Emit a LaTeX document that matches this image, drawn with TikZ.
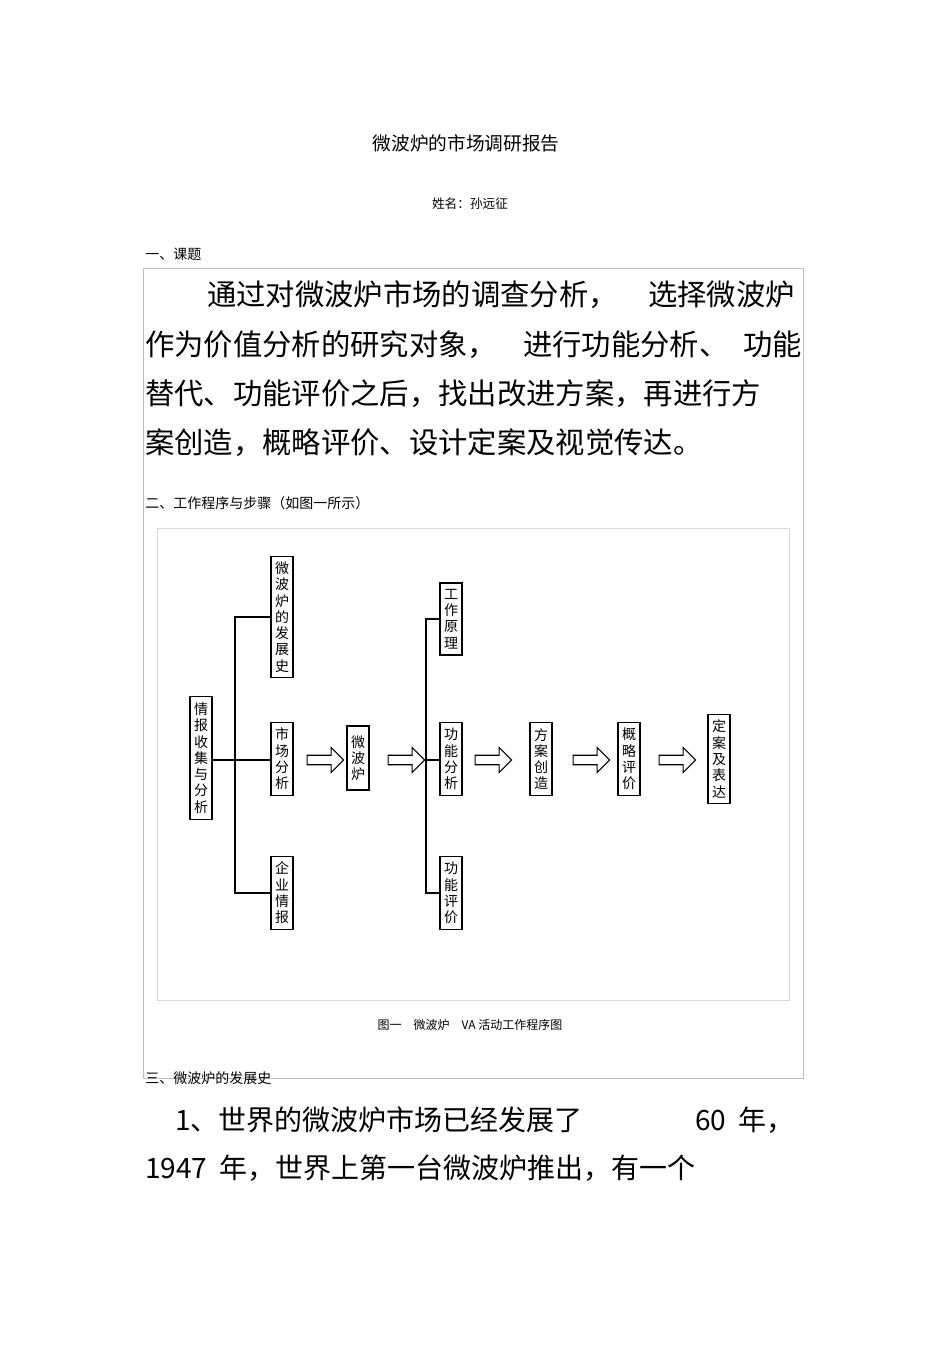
\documentclass[tikz,border=0pt]{standalone}
\usepackage{fontspec}
\setmainfont{Noto Sans CJK SC}
\usetikzlibrary{shapes.arrows}
\begin{document}
\begin{tikzpicture}[x=0.75pt,y=-0.75pt,
  vbox/.style={draw,line width=0.9pt,fill=white,inner sep=0pt,minimum width=16.5pt,font=\fontsize{10.5}{12.2}\selectfont,align=center},
  conn/.style={line width=0.8pt},
  harrow/.style={single arrow,draw,line width=0.8pt,minimum height=27.5pt,minimum width=19pt,single arrow head extend=4pt,single arrow tip angle=90,inner sep=2pt},
  big/.style={anchor=base west,inner sep=0pt,font=\fontsize{22}{26}\selectfont},
  small/.style={anchor=base west,inner sep=0pt,font=\fontsize{10.5}{12}\selectfont}]
\useasboundingbox (0,0) rectangle (950,1345);
\fill[white] (0,0) rectangle (950,1345);
% frames
\draw[black!25,line width=0.4pt] (143,268) rectangle (803,1078);
\draw[black!15,line width=0.4pt] (157,528) rectangle (789,1000);
% title
\node[inner sep=0pt,font=\fontsize{14}{16}\selectfont] (title) at (466,143) {微波炉的市场调研报告};
\node[inner sep=0pt,font=\fontsize{9.5}{11}\selectfont] (name) at (470,204) {姓名：孙远征};
\node[small] (h1) at (145,259) {一、课题};
\node[big] (l1a) at (207,305) {通过对微波炉市场的调查分析，};
\node[big] (l1b) at (648,305) {选择微波炉};
\node[big] (l2a) at (145,355) {作为价值分析的研究对象，};
\node[big] (l2b) at (523,355) {进行功能分析、};
\node[big] (l2c) at (743,355) {功能};
\node[big] (l3) at (145,404) {替代、功能评价之后，找出改进方案，再进行方};
\node[big] (l4) at (145,453) {案创造，概略评价、设计定案及视觉传达。};
\node[small] (h2) at (145,508) {二、工作程序与步骤（如图一所示）};
\node[small] (h3) at (145,1083) {三、微波炉的发展史};
\node[big,font=\fontsize{21}{25}\selectfont] (b1a) at (175,1130) {1、世界的微波炉市场已经发展了};
\node[big,font=\fontsize{21}{25}\selectfont] (b1b) at (695,1130) {60\ \ 年，};
\node[big,font=\fontsize{21}{25}\selectfont] (b2) at (145,1178) {1947\ \ 年，世界上第一台微波炉推出，有一个};
\node[inner sep=0pt,font=\fontsize{9}{11}\selectfont] (cap) at (470,1025) {图一\quad 微波炉\quad VA\ 活动工作程序图};
% boxes
\node[vbox,minimum height=92pt] (qb) at (201,758) {情\\报\\收\\集\\与\\分\\析};
\node[vbox,minimum height=91pt] (fz) at (282,617) {微\\波\\炉\\的\\发\\展\\史};
\node[vbox,minimum height=55pt] (sc) at (282,759) {市\\场\\分\\析};
\node[vbox,minimum height=55pt] (qy) at (282,893) {企\\业\\情\\报};
\node[vbox,minimum height=48pt] (wb) at (358,758) {微\\波\\炉};
\node[vbox,minimum height=54pt] (gz) at (451,619) {工\\作\\原\\理};
\node[vbox,minimum height=55pt] (gn) at (451,759) {功\\能\\分\\析};
\node[vbox,minimum height=55pt] (gp) at (451,893) {功\\能\\评\\价};
\node[vbox,minimum height=55pt] (fa) at (541,759) {方\\案\\创\\造};
\node[vbox,minimum height=55pt] (gl) at (629,759) {概\\略\\评\\价};
\node[vbox,minimum height=67pt] (da) at (719,759) {定\\案\\及\\表\\达};
% trunk 1
\coordinate (t1) at (235,760);
\draw[conn] (qb.east|-t1) -- (sc.west|-t1);
\draw[conn] (fz.west) -| (t1) |- (qy.west);
% trunk 2
\coordinate (t2) at (426,760);
\draw[conn] (gz.west) -| (t2) |- (gp.west);
\draw[conn] (t2) -- (gn.west|-t2);
% hollow arrows
\node[harrow] (a1) at (323,760) {};
\node[harrow] (a2) at (404,760) {};
\node[harrow] (a3) at (491,760) {};
\node[harrow] (a4) at (589,760) {};
\node[harrow] (a5) at (675,760) {};
\end{tikzpicture}
\end{document}
